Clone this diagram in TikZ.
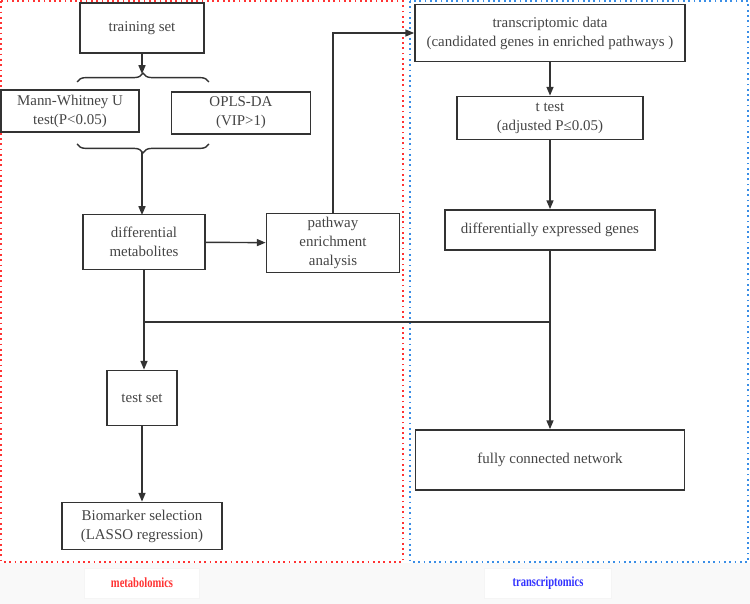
\documentclass[tikz,border=0pt]{standalone}
\usepackage{fontspec}
\setmainfont{Liberation Serif}
\usetikzlibrary{arrows.meta,decorations.pathreplacing}
\definecolor{linegray}{HTML}{333333}
\definecolor{textgray}{HTML}{444444}
\definecolor{metared}{HTML}{FF3333}
\definecolor{transblue}{HTML}{3A8EE6}
\definecolor{labelblue}{HTML}{3333FF}
\tikzset{
    box/.style={draw=linegray, line width=1pt, align=center, inner sep=0pt,
        text=textgray, font=\fontsize{8.5}{10.8}\selectfont},
    flow/.style={draw=linegray, line width=0.8pt, -{Triangle[length=5pt,width=4pt]}},
    link/.style={draw=linegray, line width=0.8pt},
    curly/.style={draw=linegray, line width=0.8pt,
        decorate, decoration={brace, amplitude=5pt}},
    frame/.style={dotted, line width=1pt},
    tag/.style={fill=white, draw=gray!8, minimum height=0.6cm, font=\fontsize{8}{9}\selectfont\bfseries}
}
\begin{document}
\begin{tikzpicture}[x=0.02cm, y=-0.02cm]
    \useasboundingbox (0,0) rectangle (750,604);
    % bottom strip with the two group names
    \fill[gray!5] (0,563) rectangle (750,604);
    \node[tag, minimum width=2.3cm, text=metared] (metalabel) at (142,583) {\scalebox{0.75}[1]{metabolomics}};
    \node[tag, minimum width=2.54cm, text=labelblue] (translabel) at (548,583) {\scalebox{0.75}[1]{transcriptomics}};

    % dotted frames of both sides
    \draw[frame, metared] (1,1) rectangle (403,562);
    \draw[frame, transblue] (410,1) rectangle (748,562);

    % metabolomics side
    \node[box, minimum width=2.48cm, minimum height=1cm] (training) at (142,28) {training set};
    \node[box, minimum width=2.76cm, minimum height=0.84cm] (mannwhitney) at (70,111) {Mann-Whitney U\\test(P<0.05)};
    \node[box, minimum width=2.78cm, minimum height=0.84cm] (oplsda) at (241,113) {OPLS-DA\\(VIP>1)};
    \node[box, minimum width=2.44cm, minimum height=1.1cm] (diffmet) at (144,242) {differential\\metabolites};
    \node[box, minimum width=2.66cm, minimum height=1.18cm] (pathway) at (333,243) {pathway\\enrichment\\analysis};
    \node[box, minimum width=1.4cm, minimum height=1.1cm] (testset) at (142,398) {test set};
    \node[box, minimum width=3.2cm, minimum height=0.94cm] (biomarker) at (142,526) {Biomarker selection\\(LASSO regression)};

    % braces round the two tests
    \draw[curly] (77,82) -- (209,82);
    \draw[curly] (209,144) -- (77,144);
    \coordinate (toptip) at (142,74);
    \coordinate (bottip) at (142,152);

    % transcriptomics side
    \node[box, minimum width=5.4cm, minimum height=1.14cm] (transdata) at (550,33) {transcriptomic data\\(candidated genes in enriched pathways )};
    \node[box, minimum width=3.72cm, minimum height=0.86cm] (ttest) at (550,118) {t test\\(adjusted P≤0.05)};
    \node[box, minimum width=4.2cm, minimum height=0.8cm] (diffgene) at (550,230) {differentially expressed genes};
    \node[box, minimum width=5.38cm, minimum height=1.2cm] (network) at (550,460) {fully connected network};

    % connectors
    \draw[flow] (training) -- (toptip);
    \draw[flow] (bottip) -- (142,215);
    \draw[flow] (diffmet) -- (pathway);
    \draw[flow] (pathway.north) |- (transdata.west);
    \draw[flow] (transdata) -- (ttest);
    \draw[flow] (ttest) -- (diffgene);
    \coordinate (joinleft) at (144,322);
    \coordinate (joinright) at (550,322);
    \draw[flow] (diffmet.south) -- (diffmet.south |- testset.north);
    \draw[flow] (testset) -- (biomarker);
    \draw[link] (joinleft) -- (joinright);
    \draw[flow] (diffgene) -- (network);
\end{tikzpicture}
\end{document}
